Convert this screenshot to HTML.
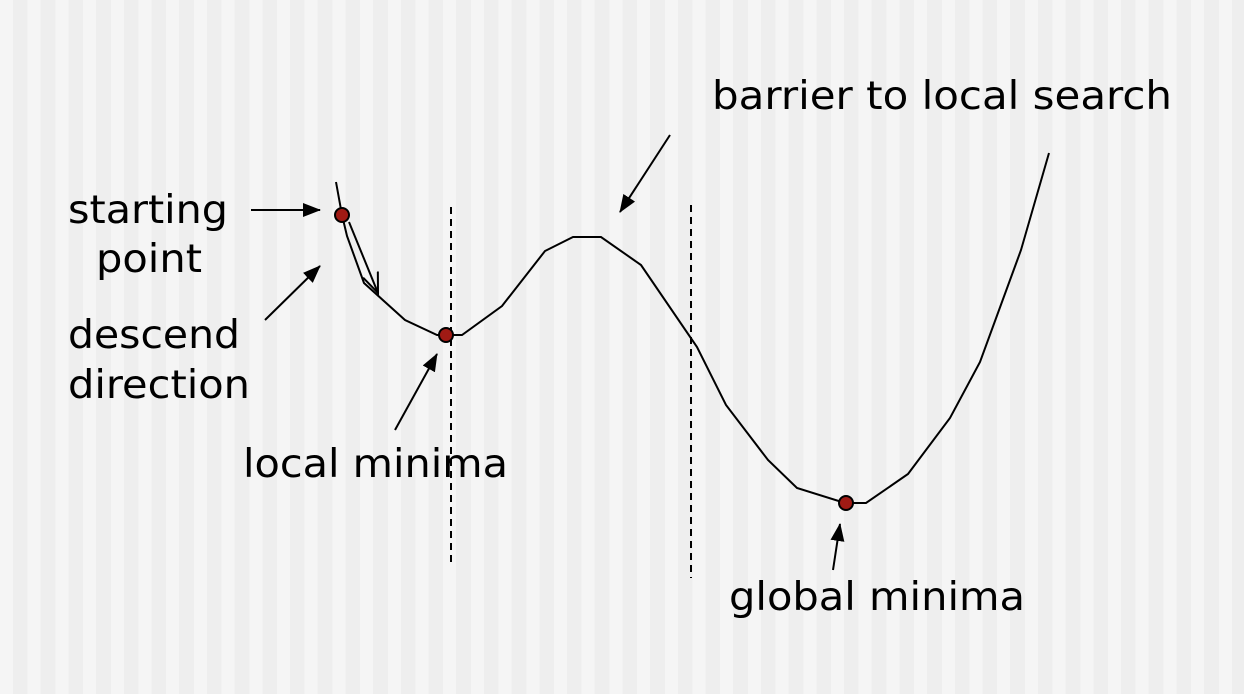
<!DOCTYPE html>
<html><head><meta charset="utf-8"><style>
html,body{margin:0;padding:0;width:1244px;height:694px;overflow:hidden}
body{background:repeating-linear-gradient(90deg,#f5f5f5 0px,#f5f5f5 13px,#eeeeee 13px,#eeeeee 27.7px)}
svg{position:absolute;left:0;top:0}
text{font-family:"DejaVu Sans","Liberation Sans",sans-serif;font-size:39px;fill:#000}
</style></head><body>
<svg width="1244" height="694">
<defs><marker id="ah" markerWidth="18" markerHeight="14" refX="17" refY="7" orient="auto" markerUnits="userSpaceOnUse"><path d="M0,0 L18,7 L0,14 z" fill="#000"/></marker>
<marker id="ah2" markerWidth="22" markerHeight="22" refX="20" refY="11" orient="auto" markerUnits="userSpaceOnUse"><path d="M0,3 L20,11 L0,19" fill="none" stroke="#000" stroke-width="2"/></marker></defs>
<g id="curve"></g>
<line x1="451" y1="207" x2="451" y2="565" stroke="#000" stroke-width="2" stroke-dasharray="7,5"/>
<line x1="691" y1="205" x2="691" y2="578" stroke="#000" stroke-width="2" stroke-dasharray="7,5"/>
<line x1="349" y1="222" x2="378" y2="293" stroke="#000" stroke-width="2" marker-end="url(#ah2)"/>
<line x1="251" y1="210" x2="320" y2="210" stroke="#000" stroke-width="2" marker-end="url(#ah)"/>
<line x1="265" y1="320" x2="320" y2="266" stroke="#000" stroke-width="2" marker-end="url(#ah)"/>
<line x1="395" y1="430" x2="437" y2="354" stroke="#000" stroke-width="2" marker-end="url(#ah)"/>
<line x1="670" y1="135" x2="620" y2="212" stroke="#000" stroke-width="2" marker-end="url(#ah)"/>
<line x1="833" y1="570" x2="840" y2="524" stroke="#000" stroke-width="2" marker-end="url(#ah)"/>
<circle cx="342" cy="215" r="7" fill="#a01a14" stroke="#000" stroke-width="2"/>
<circle cx="446" cy="335" r="7" fill="#a01a14" stroke="#000" stroke-width="2"/>
<circle cx="846" cy="503" r="7" fill="#a01a14" stroke="#000" stroke-width="2"/>
<text x="68" y="223" textLength="160" lengthAdjust="spacingAndGlyphs">starting</text>
<text x="96" y="272" textLength="106" lengthAdjust="spacingAndGlyphs">point</text>
<text x="68" y="348" textLength="172" lengthAdjust="spacingAndGlyphs">descend</text>
<text x="68" y="398" textLength="182" lengthAdjust="spacingAndGlyphs">direction</text>
<text x="243" y="477" textLength="265" lengthAdjust="spacingAndGlyphs">local minima</text>
<text x="712" y="109" textLength="460" lengthAdjust="spacingAndGlyphs">barrier to local search</text>
<text x="729" y="610" textLength="296" lengthAdjust="spacingAndGlyphs">global minima</text>
</svg>
<script>
const xs=[336,342,347,364,405,437,462,502,545,573,601,641,697,726,768,797,845,866,908,950,980,1021,1049];
const ys=[182,215,236,283,320,335,335,306,251,237,237,265,347,405,460,488,503,503,474,418,362,250,153];
const g=document.getElementById('curve');
const p=document.createElementNS('http://www.w3.org/2000/svg','polyline');


p.setAttribute('points',xs.map((x,i)=>x+','+ys[i]).join(' '));
p.setAttribute('fill','none');p.setAttribute('stroke','#000');p.setAttribute('stroke-width','2');
g.appendChild(p);
</script>
</body></html>
